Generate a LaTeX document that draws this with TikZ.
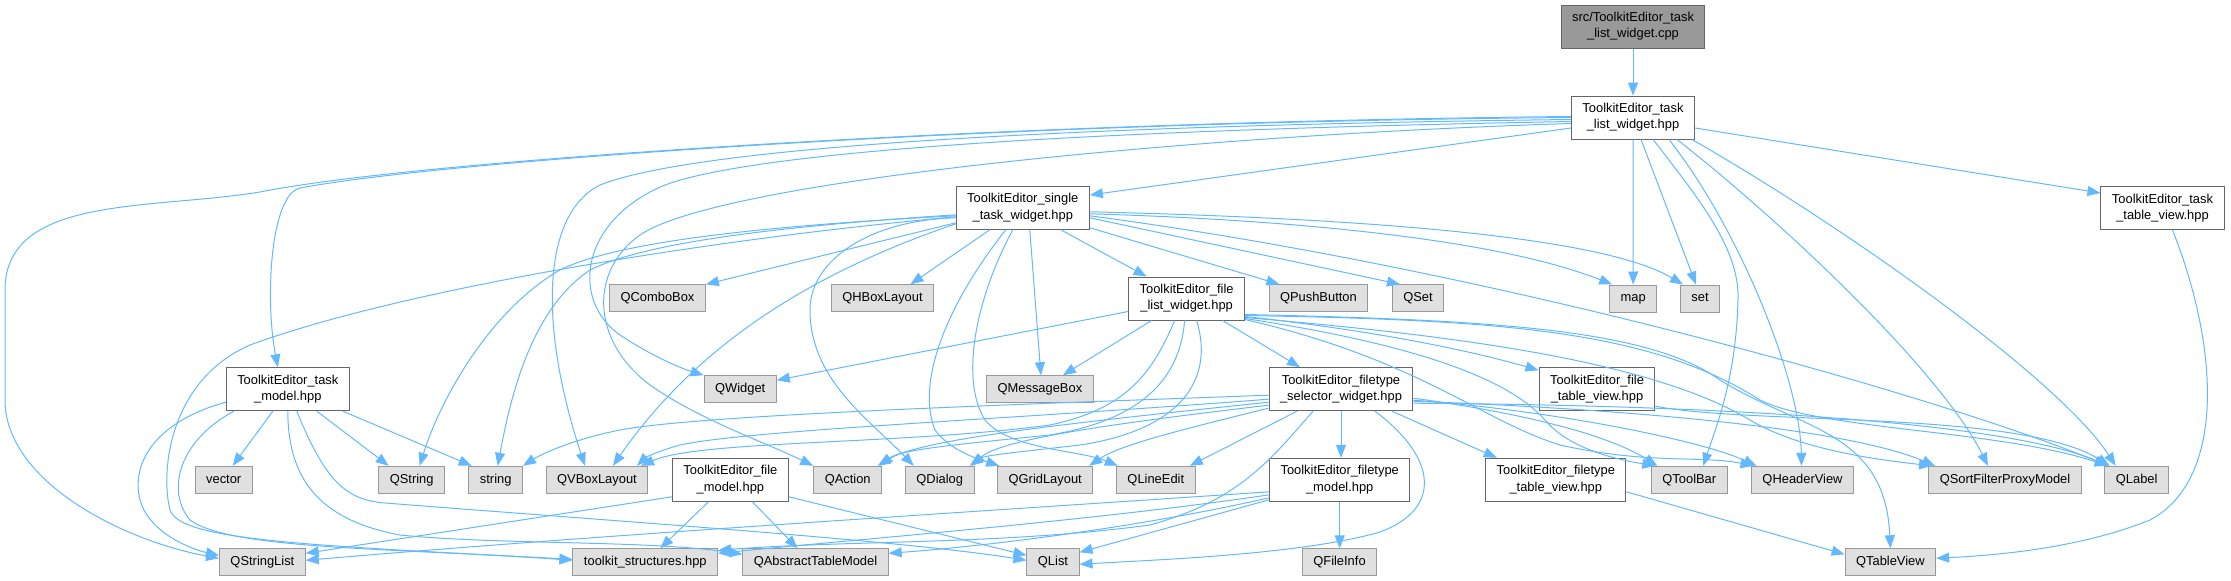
\documentclass[tikz,border=0pt]{standalone}
\usepackage{fontspec}
\setmainfont{Liberation Sans}
\usetikzlibrary{arrows.meta}
\definecolor{edgecol}{HTML}{63B8FF}
\definecolor{extfill}{HTML}{E0E0E0}
\definecolor{extdraw}{HTML}{999999}
\definecolor{hdrdraw}{HTML}{666666}
\definecolor{rootfill}{HTML}{999999}
\tikzset{
  basebox/.style={line width=1pt, inner xsep=11pt, inner ysep=0pt, align=center,
    font=\fontsize{12.9pt}{16.3pt}\selectfont},
  ext/.style={basebox, fill=extfill, draw=extdraw, minimum height=27pt, text height=9.5pt, text depth=2.8pt},
  hdr/.style={basebox, fill=white, draw=hdrdraw, minimum height=43pt},
  rootn/.style={basebox, fill=rootfill, draw=hdrdraw, minimum height=43pt},
  edge/.style={draw=edgecol, line width=1pt, -{Triangle[length=13pt,width=10pt]}}
}
\begin{document}
\begin{tikzpicture}[x=1pt,y=-1pt]
\useasboundingbox (0,0) rectangle (2231,581);
% nodes
\node[rootn] (root) at (1633,26.5) {src/ToolkitEditor\_task\\\_list\_widget.cpp};
\node[hdr] (tlw) at (1633,117.5) {ToolkitEditor\_task\\\_list\_widget.hpp};
\node[hdr] (stw) at (1022.8,207.8) {ToolkitEditor\_single\\\_task\_widget.hpp};
\node[hdr] (ttv) at (2162.5,208) {ToolkitEditor\_task\\\_table\_view.hpp};
\node[ext] (qcombo) at (657.5,298.3) {QComboBox};
\node[ext] (qhbox) at (882.5,298.3) {QHBoxLayout};
\node[hdr] (flw) at (1186.6,298.5) {ToolkitEditor\_file\\\_list\_widget.hpp};
\node[ext] (qpush) at (1318.4,298.3) {QPushButton};
\node[ext] (qset) at (1418,298.3) {QSet};
\node[ext] (map) at (1633.2,298.5) {map};
\node[ext] (set) at (1700,298.5) {set};
\node[hdr] (tm) at (287.8,389.2) {ToolkitEditor\_task\\\_model.hpp};
\node[ext] (qwidget) at (740.2,389.2) {QWidget};
\node[ext] (qmsg) at (1039.9,389.2) {QMessageBox};
\node[hdr] (fsw) at (1341,389.2) {ToolkitEditor\_filetype\\\_selector\_widget.hpp};
\node[hdr] (ftv) at (1597,389.2) {ToolkitEditor\_file\\\_table\_view.hpp};
\node[ext] (vector) at (223.7,479.8) {vector};
\node[ext] (qstring) at (411.7,479.8) {QString};
\node[ext] (string) at (495.7,479.8) {string};
\node[ext] (qvbox) at (597,479.8) {QVBoxLayout};
\node[hdr] (fm) at (730.4,479.8) {ToolkitEditor\_file\\\_model.hpp};
\node[ext] (qaction) at (847.7,479.8) {QAction};
\node[ext] (qdialog) at (939.7,479.8) {QDialog};
\node[ext] (qgrid) at (1045.2,479.8) {QGridLayout};
\node[ext] (qline) at (1155.8,479.8) {QLineEdit};
\node[hdr] (ftm) at (1339.7,479.8) {ToolkitEditor\_filetype\\\_model.hpp};
\node[hdr] (fttv) at (1555.8,479.8) {ToolkitEditor\_filetype\\\_table\_view.hpp};
\node[ext] (qtoolbar) at (1689.3,479.8) {QToolBar};
\node[ext] (qheader) at (1802.5,479.8) {QHeaderView};
\node[ext] (qsort) at (2005,479.8) {QSortFilterProxyModel};
\node[ext] (qlabel) at (2136.7,479.8) {QLabel};
\node[ext] (qsl) at (262.4,562.3) {QStringList};
\node[ext] (ts) at (645.3,562.3) {toolkit\_structures.hpp};
\node[ext] (qatm) at (815.5,562.3) {QAbstractTableModel};
\node[ext] (qlist) at (1053,562.3) {QList};
\node[ext] (qfi) at (1339.5,562.3) {QFileInfo};
\node[ext] (qtv) at (1890.4,562.3) {QTableView};
% root
\draw[edge] (root.south) -- (tlw.north);
% task_list_widget
\draw[edge] ([yshift=-10.5pt]tlw.west) -- ([yshift=12.8pt]stw.east);
\draw[edge] ([yshift=-10.5pt]tlw.east) -- ([yshift=15pt]ttv.west);
\draw[edge] (tlw.south) -- (map.north);
\draw[edge] ([xshift=8pt]tlw.south) -- ([xshift=-4pt]set.north);
\draw[edge] ([xshift=20pt]tlw.south) .. controls (1700,200) and (1740,250) .. (1738,300) .. controls (1736,380) and (1715,430) .. ([xshift=14pt]qtoolbar.north);
\draw[edge] ([xshift=36pt]tlw.south) .. controls (1740,230) and (1800,380) .. ([xshift=-1pt]qheader.north);
\draw[edge] ([xshift=44pt]tlw.south) .. controls (1780,220) and (1940,370) .. ([xshift=-17pt]qsort.north);
\draw[edge] ([xshift=59pt]tlw.south) .. controls (1850,230) and (2060,380) .. ([xshift=-21pt]qlabel.north);
\draw[edge] (tlw.west) .. controls (1000,122) and (450,160) .. (300,188) .. controls (270,195) and (265,300) .. ([xshift=-10pt]tm.north);
\draw[edge] ([yshift=1pt]tlw.west) .. controls (1000,122) and (420,160) .. (260,192) .. controls (150,210) and (5,195) .. (5,290) -- (5,400) .. controls (5,480) and (120,540) .. ([yshift=4pt]qsl.west);
\draw[edge] ([yshift=-2pt]tlw.west) .. controls (1100,125) and (700,145) .. (600,185) .. controls (540,215) and (540,330) .. ([xshift=-12pt]qvbox.north);
\draw[edge] ([yshift=-4pt]tlw.west) .. controls (1100,130) and (760,150) .. (665,185) .. controls (580,220) and (570,300) .. (620,335) .. controls (650,355) and (680,368) .. (qwidget.north west);
\draw[edge] ([yshift=-6pt]tlw.west) .. controls (1200,135) and (720,180) .. (640,235) .. controls (590,270) and (590,340) .. (650,385) .. controls (700,420) and (760,440) .. (qaction.north west);
% single_task_widget
\draw[edge] ([yshift=-15pt]stw.west) -- (qcombo.north east);
\draw[edge] ([xshift=-33pt]stw.south) -- ([xshift=28pt]qhbox.north);
\draw[edge] ([xshift=38pt]stw.south) -- ([xshift=-40pt]flw.north);
\draw[edge] ([yshift=-20pt]stw.east) -- ([xshift=-39pt]qpush.north);
\draw[edge] ([yshift=-10pt]stw.east) -- ([xshift=-18pt]qset.north);
\draw[edge] ([yshift=-6pt]stw.east) .. controls (1300,220) and (1500,240) .. ([xshift=-21pt]map.north);
\draw[edge] ([yshift=-4pt]stw.east) .. controls (1350,218) and (1600,235) .. ([xshift=-17pt]set.north);
\draw[edge] ([yshift=-8pt]stw.east) .. controls (1500,270) and (1950,400) .. ([xshift=-29pt]qlabel.north);
\draw[edge] ([xshift=7pt]stw.south) -- ([xshift=1pt]qmsg.north);
\draw[edge] ([xshift=-10pt]stw.south) .. controls (975,300) and (960,380) .. (985,420) .. controls (1010,450) and (1080,450) .. ([xshift=-38pt]qline.north);
\draw[edge] ([xshift=-17pt]stw.south) .. controls (950,300) and (915,380) .. (935,430) .. controls (950,450) and (975,458) .. ([xshift=-46pt]qgrid.north);
\draw[edge] ([yshift=-10pt]stw.west) .. controls (870,220) and (810,260) .. (810,310) .. controls (810,380) and (870,420) .. ([xshift=-26pt]qdialog.north);
\draw[edge] ([yshift=-16pt]stw.west) .. controls (820,270) and (700,340) .. ([xshift=16pt]qvbox.north);
\draw[edge] ([yshift=-7pt]stw.west) .. controls (800,225) and (650,240) .. (590,270) .. controls (530,310) and (510,400) .. ([xshift=2pt]string.north);
\draw[edge] ([yshift=-8pt]stw.west) .. controls (780,225) and (620,240) .. (560,270) .. controls (490,310) and (440,400) .. ([xshift=8pt]qstring.north);
\draw[edge] ([yshift=-9pt]stw.west) .. controls (700,240) and (400,290) .. (250,345) .. controls (170,380) and (160,470) .. (170,510) .. controls (180,540) and (300,545) .. ([yshift=3pt]ts.west);
% file_list_widget
\draw[edge] ([yshift=-13pt]flw.west) -- ([yshift=9pt]qwidget.east);
\draw[edge] ([xshift=-35pt]flw.south) -- ([xshift=23pt]qmsg.north);
\draw[edge] ([xshift=36pt]flw.south) -- ([xshift=-41pt]fsw.north);
\draw[edge] ([yshift=-18pt]flw.east) .. controls (1350,328) and (1450,345) .. ([yshift=19pt]ftv.west);
\draw[edge] ([xshift=-12pt]flw.south) .. controls (1150,380) and (1120,410) .. (1050,425) .. controls (900,445) and (700,440) .. ([xshift=44pt]qvbox.north);
\draw[edge] ([xshift=-2pt]flw.south) .. controls (1180,380) and (1140,420) .. (1050,435) .. controls (950,445) and (900,450) .. ([xshift=32pt]qaction.north);
\draw[edge] ([xshift=10pt]flw.south) .. controls (1215,380) and (1180,430) .. (1080,445) .. controls (1020,452) and (985,455) .. ([xshift=30pt]qdialog.north);
\draw[edge] ([yshift=-20pt]flw.east) .. controls (1420,345) and (1510,380) .. (1545,420) .. controls (1570,450) and (1620,460) .. ([xshift=-34pt]qtoolbar.north);
\draw[edge] ([yshift=-21pt]flw.east) .. controls (1420,360) and (1480,420) .. (1560,445) .. controls (1650,465) and (1700,455) .. ([xshift=-49pt]qheader.north);
\draw[edge] ([yshift=-19pt]flw.east) .. controls (1450,335) and (1650,360) .. (1750,420) .. controls (1800,450) and (1880,460) .. ([xshift=-73pt]qsort.north);
\draw[edge] ([yshift=-17pt]flw.east) .. controls (1500,320) and (1650,330) .. (1760,400) .. controls (1820,430) and (2000,430) .. ([xshift=-29pt]qlabel.north);
\draw[edge] ([yshift=-16pt]flw.east) .. controls (1500,320) and (1650,330) .. (1720,380) .. controls (1800,430) and (1885,430) .. (qtv.north);
% filetype_selector_widget
\draw[edge] (fsw.south) -- (fsw.south |- ftm.north);
\draw[edge] ([xshift=51pt]fsw.south) -- ([xshift=-59pt]fttv.north);
\draw[edge] ([xshift=-44pt]fsw.south) -- ([xshift=34pt]qline.north);
\draw[edge] ([xshift=-28pt]fsw.south) .. controls (1270,460) and (1240,500) .. (1150,525) .. controls (1000,545) and (850,540) .. ([yshift=12pt]ts.east);
\draw[edge] ([xshift=34pt]fsw.south) .. controls (1440,460) and (1440,510) .. (1380,532) .. controls (1300,555) and (1150,560) .. ([yshift=-2pt]qlist.east);
\draw[edge] ([yshift=-6pt]fsw.west) .. controls (1000,405) and (700,415) .. (620,430) .. controls (570,440) and (540,455) .. (string.north east);
\draw[edge] ([yshift=-10pt]fsw.west) .. controls (1000,420) and (750,430) .. (680,445) .. controls (655,452) and (645,458) .. ([xshift=40pt]qvbox.north);
\draw[edge] ([yshift=-13pt]fsw.west) .. controls (1050,425) and (920,440) .. ([xshift=30pt]qaction.north);
\draw[edge] ([yshift=-16pt]fsw.west) .. controls (1100,425) and (1000,440) .. ([xshift=32pt]qdialog.north);
\draw[edge] ([yshift=-19pt]fsw.west) .. controls (1180,430) and (1120,445) .. ([xshift=44pt]qgrid.north);
\draw[edge] ([yshift=-9pt]fsw.east) .. controls (1500,410) and (1600,430) .. ([xshift=-32pt]qtoolbar.north);
\draw[edge] ([yshift=-11pt]fsw.east) .. controls (1550,410) and (1700,440) .. ([xshift=-46pt]qheader.north);
\draw[edge] ([yshift=-12pt]fsw.east) .. controls (1650,410) and (1850,430) .. ([xshift=-70pt]qsort.north);
\draw[edge] ([yshift=-14pt]fsw.east) .. controls (1700,405) and (2000,420) .. ([xshift=-28pt]qlabel.north);
% file_table_view, filetype_table_view, task_table_view
\draw[edge] ([yshift=-17pt]ftv.east) .. controls (1750,425) and (2020,410) .. ([xshift=-27pt]qlabel.north);
\draw[edge] ([yshift=-12pt]fttv.east) -- ([yshift=8pt]qtv.west);
\draw[edge] ([xshift=10pt]ttv.south) .. controls (2220,350) and (2225,480) .. (2150,520) .. controls (2080,548) and (2000,555) .. ([yshift=4pt]qtv.east);
% task_model
\draw[edge] ([yshift=-13pt]tm.west) .. controls (160,420) and (130,460) .. (140,500) .. controls (150,535) and (195,550) .. ([yshift=7pt]qsl.west);
\draw[edge] ([xshift=-54pt]tm.south) .. controls (180,440) and (165,490) .. (190,520) .. controls (230,550) and (400,548) .. ([yshift=2pt]ts.west);
\draw[edge] ([xshift=-15pt]tm.south) -- ([xshift=9pt]vector.north);
\draw[edge] ([xshift=29pt]tm.south) -- ([xshift=-23pt]qstring.north);
\draw[edge] ([xshift=55pt]tm.south) -- ([xshift=-24pt]string.north);
\draw[edge] (tm.south) .. controls (288,480) and (320,520) .. (400,535) .. controls (500,545) and (650,540) .. ([yshift=8pt]qatm.west);
\draw[edge] ([xshift=9pt]tm.south) .. controls (325,480) and (345,500) .. (385,503) .. controls (600,520) and (900,540) .. ([yshift=2pt]qlist.west);
% file_model
\draw[edge] ([yshift=-17pt]fm.west) -- ([yshift=9pt]qsl.east);
\draw[edge] ([xshift=-22pt]fm.south) -- ([xshift=15pt]ts.north);
\draw[edge] ([xshift=22pt]fm.south) -- ([xshift=-18pt]qatm.north);
\draw[edge] ([yshift=-17pt]fm.east) -- ([yshift=7pt]qlist.west);
% filetype_model
\draw[edge] (ftm.south) -- (ftm.south |- qfi.north);
\draw[edge] ([yshift=-12pt]ftm.west) .. controls (1000,510) and (600,535) .. ([yshift=2pt]qsl.east);
\draw[edge] ([yshift=-15pt]ftm.west) .. controls (1100,520) and (850,540) .. ([yshift=9pt]ts.east);
\draw[edge] ([yshift=-18pt]ftm.west) .. controls (1150,525) and (1000,545) .. ([yshift=9pt]qatm.east);
\draw[edge] ([yshift=-20pt]ftm.west) -- ([yshift=10pt]qlist.east);
\end{tikzpicture}
\end{document}
